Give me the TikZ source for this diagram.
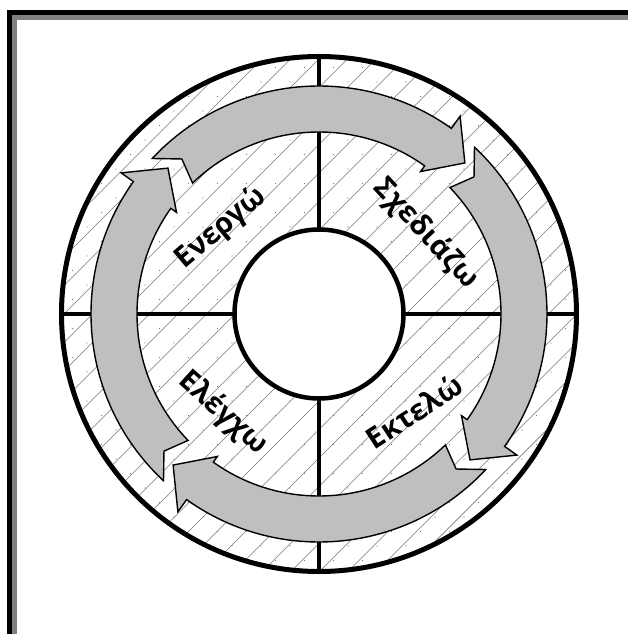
\documentclass[tikz,border=0pt]{standalone}
\usepackage{fontspec}
\setmainfont{Open Sans}
\definecolor{framegray}{RGB}{128,128,128}
\definecolor{arrowgray}{RGB}{191,191,191}
\definecolor{hatchgray}{RGB}{120,120,120}
\tikzset{
  hatchline/.style={draw=hatchgray, line width=0.7},
  hatchdot/.style={fill=hatchgray},
  cyclearrow/.style={draw=black, fill=arrowgray, line width=1.4, line join=miter},
  lab/.style={font=\fontsize{29}{34}\selectfont\bfseries, inner sep=0},
}
\newcommand{\cycarrow}[2]{%
  \filldraw[cyclearrow] (#1:228) arc[start angle=#1, end angle=#2+8.5, radius=228]
    -- (#2+8.5:243) -- (#2:210) -- (#2+8.5:175) -- (#2+8.5:182)
    arc[start angle=#2+8.5, end angle=#1-3, radius=182]
    -- (#1-5.5:207) -- cycle;}
\begin{document}
\begin{tikzpicture}[x=1pt,y=1pt]
\useasboundingbox (-319,-320) rectangle (309,314);
% frame (top and left)
\fill[black] (-311.5,304) rectangle (309,299);
\fill[black] (-311.5,304) rectangle (-306.7,-320);
\fill[framegray] (-306.7,299) rectangle (309,293.5);
\fill[framegray] (-306.7,299) rectangle (-301.7,-320);
% hatching of the ring
\begin{scope}
  \clip (0,0) circle (258);
  \foreach \k in {-20,...,20} {
    \draw[hatchline] (\k*28.5+1.5-300,-300) -- ++(600,600);
  }
  \foreach \i in {-9,...,9} {
    \foreach \j in {-18,...,18} {
      \pgfmathsetmacro{\xx}{\i*29+mod(abs(\j),2)*14.5}
      \fill[hatchdot] (\xx,\j*14.5) circle (0.6);
    }
  }
\end{scope}
% quadrant lines
\draw[line width=4.5] (0,-258) -- (0,258);
\draw[line width=4.5] (-258,0) -- (258,0);
% circles
\filldraw[fill=white, line width=4.5] (0,0) circle (84.5);
\draw[line width=5] (0,0) circle (257.5);
% arrows
\cycarrow{137}{46}
\cycarrow{47}{-44}
\cycarrow{-43}{-134}
\cycarrow{-133}{-224}
% labels
\node[lab, rotate=40] (act) at (-98,86) {Ενεργώ};
\node[lab, rotate=-47] (plan) at (107,80) {Σχεδιάζω};
\node[lab, rotate=33] (do) at (95,-97) {Εκτελώ};
\node[lab, rotate=-42] (check) at (-96,-99) {Ελέγχω};
\end{tikzpicture}
\end{document}
